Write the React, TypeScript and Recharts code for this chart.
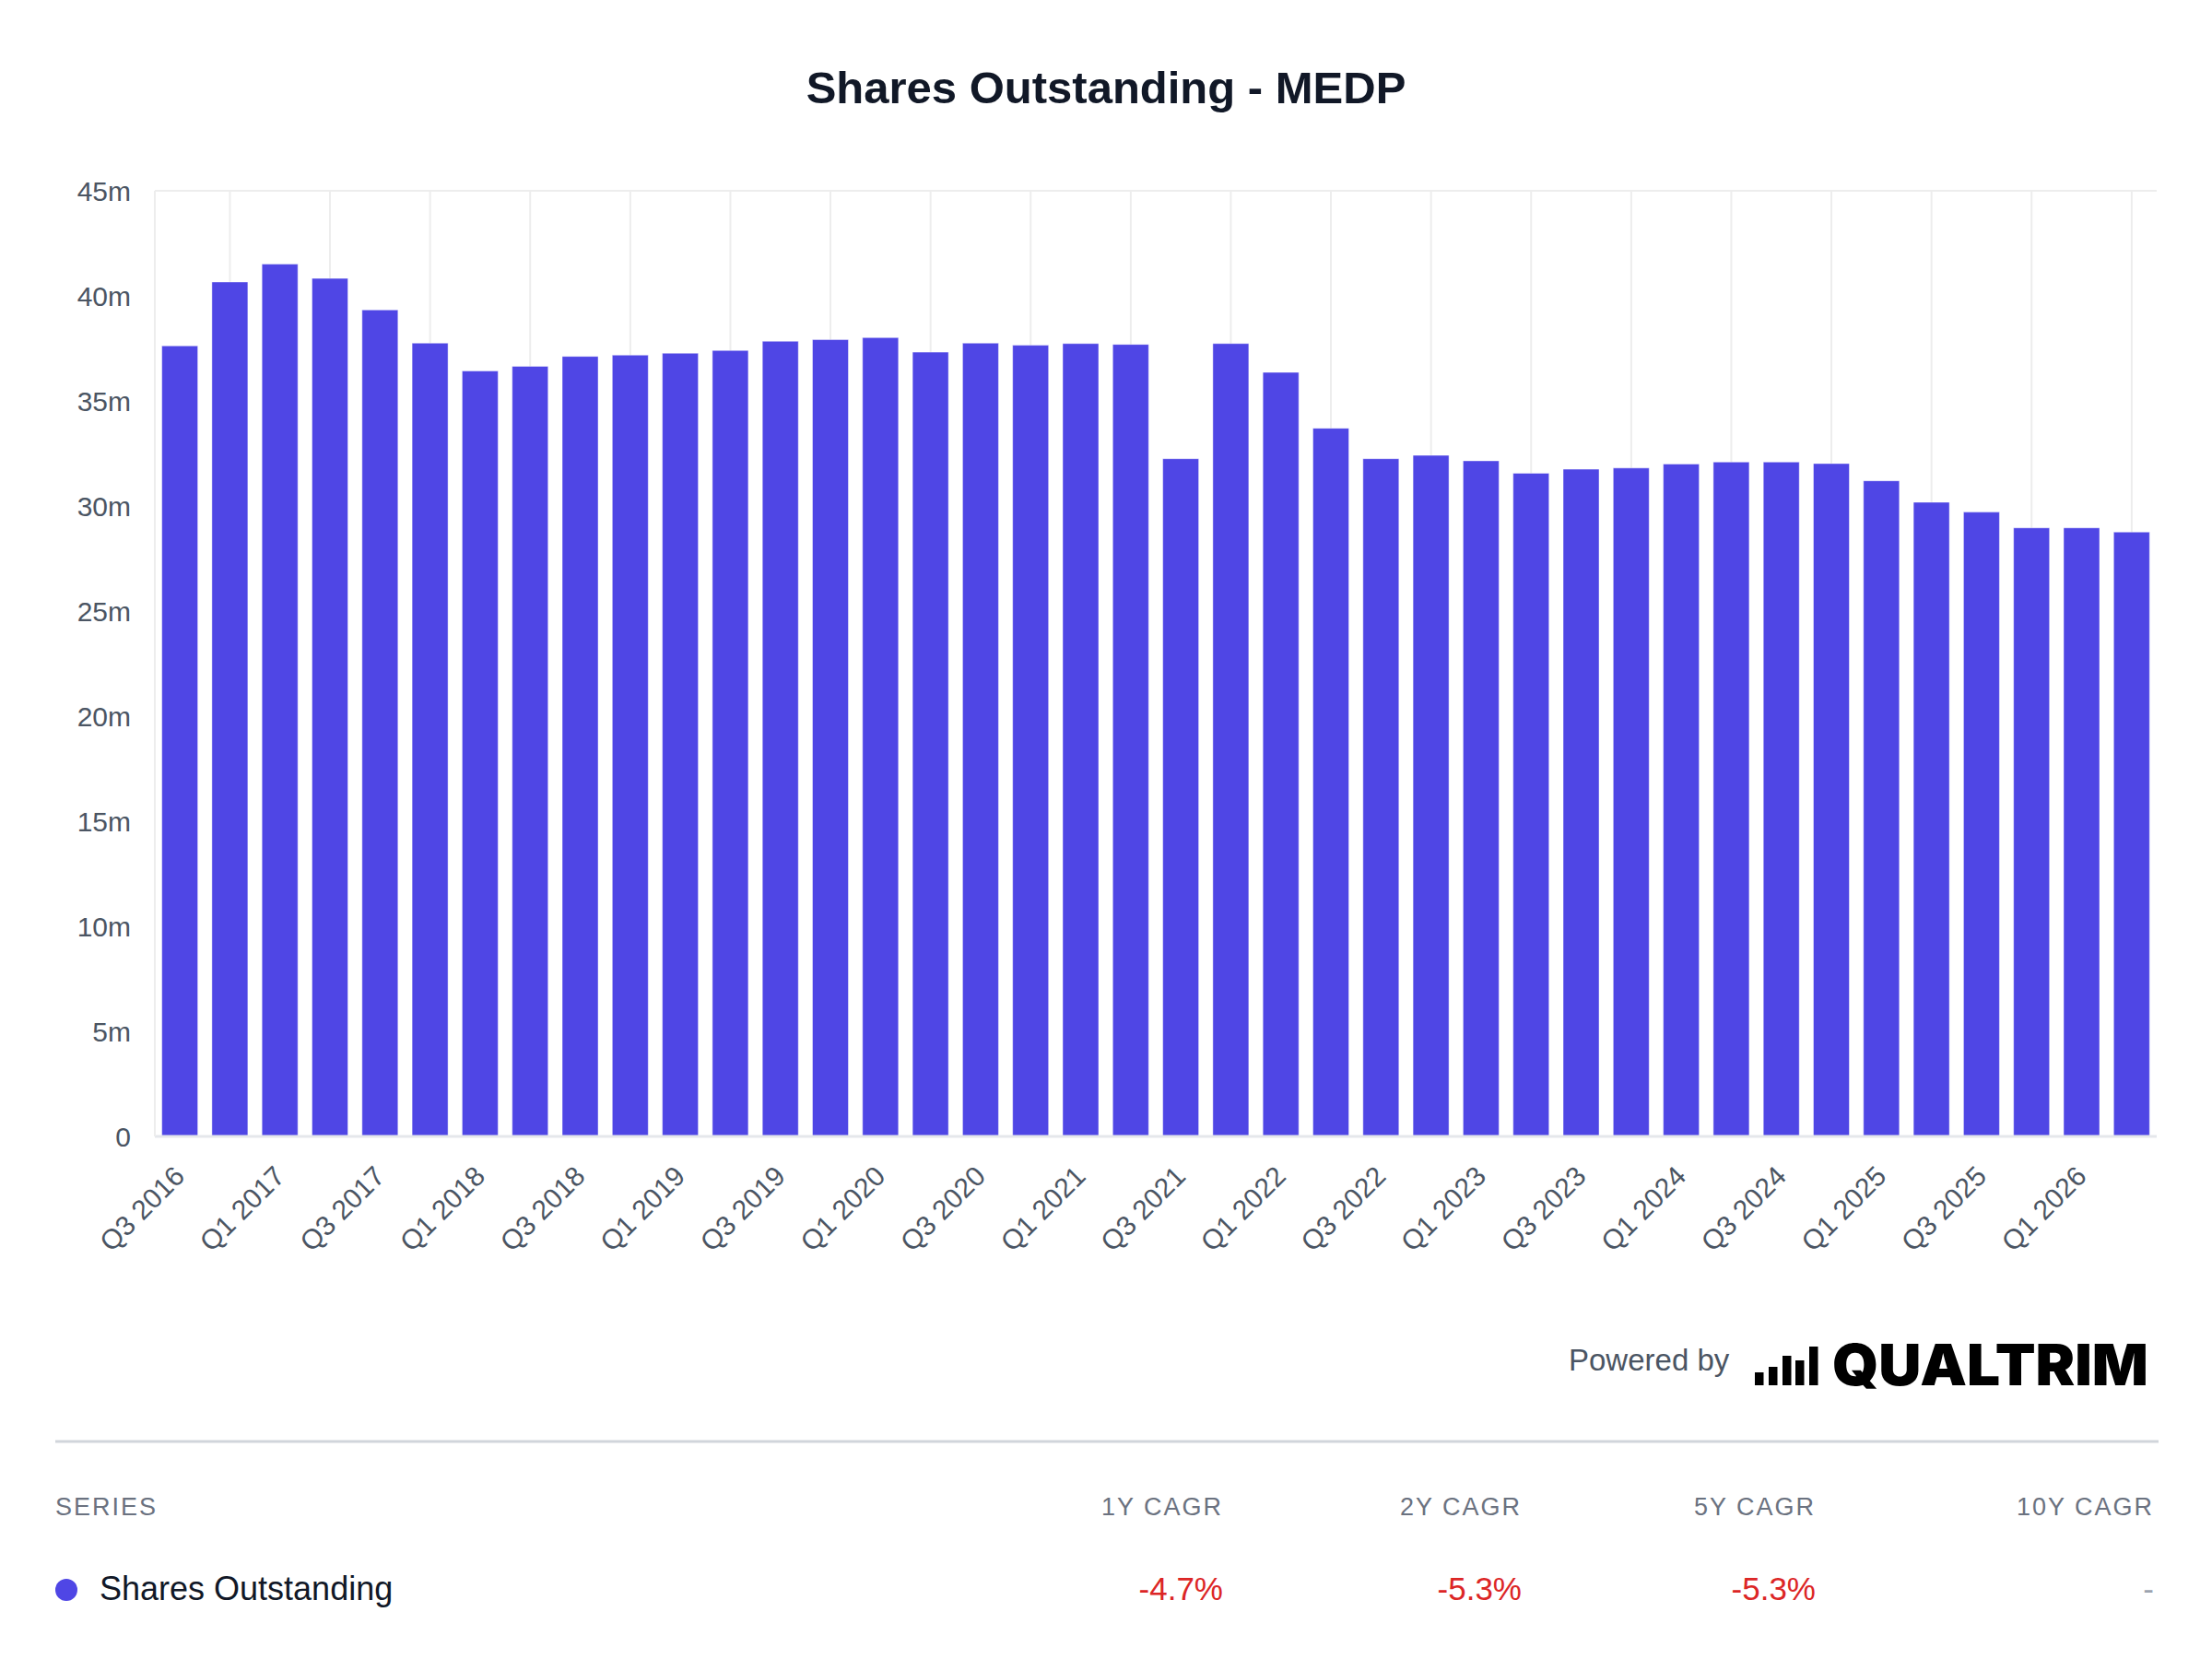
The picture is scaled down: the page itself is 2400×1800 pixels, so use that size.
import React from 'react'
import { BarChart, Bar, XAxis, YAxis, CartesianGrid, ReferenceLine } from 'recharts'

const quarters = [
  'Q3 2016', 'Q4 2016', 'Q1 2017', 'Q2 2017', 'Q3 2017', 'Q4 2017', 'Q1 2018', 'Q2 2018',
  'Q3 2018', 'Q4 2018', 'Q1 2019', 'Q2 2019', 'Q3 2019', 'Q4 2019', 'Q1 2020', 'Q2 2020',
  'Q3 2020', 'Q4 2020', 'Q1 2021', 'Q2 2021', 'Q3 2021', 'Q4 2021', 'Q1 2022', 'Q2 2022',
  'Q3 2022', 'Q4 2022', 'Q1 2023', 'Q2 2023', 'Q3 2023', 'Q4 2023', 'Q1 2024', 'Q2 2024',
  'Q3 2024', 'Q4 2024', 'Q1 2025', 'Q2 2025', 'Q3 2025', 'Q4 2025', 'Q1 2026', 'Q2 2026',
]

// shares outstanding, in millions
const sharesOutstanding = [
  37.62, 40.66, 41.51, 40.83, 39.33, 37.75, 36.43, 36.65,
  37.12, 37.18, 37.27, 37.4, 37.84, 37.92, 38.01, 37.32,
  37.75, 37.65, 37.73, 37.69, 32.25, 37.73, 36.36, 33.7,
  32.25, 32.41, 32.15, 31.56, 31.75, 31.81, 32.0, 32.09,
  32.09, 32.02, 31.2, 30.18, 29.71, 28.96, 28.96, 28.76,
]

const yTicks = [0, 5, 10, 15, 20, 25, 30, 35, 40, 45]

const cagrHeaders = ['1Y CAGR', '2Y CAGR', '5Y CAGR', '10Y CAGR']
const cagrValues = ['-4.7%', '-5.3%', '-5.3%', '-']

const data = quarters.map((quarter, i) => ({ quarter, shares: sharesOutstanding[i] }))

// grid lines sit on every other bar (the unlabelled ones)
const gridQuarters = quarters.filter((_, i) => i % 2 === 1)

const FONT = '"Liberation Sans", Arial, Helvetica, sans-serif'
const BAR_COLOR = '#4f46e5'
const GRID = '#ededed'
const TICK_COLOR = '#4b5563'

const CHART_W = 2400
const CHART_H = 1420
const MARGIN = { top: 207, right: 60, left: 0, bottom: 0 }

const XTick = ({ x, y, payload }: any) => (
  <text
    transform={`translate(${x + 7},${y + 45}) rotate(-45)`}
    textAnchor="end"
    fontSize={30}
    fill={TICK_COLOR}
    fontFamily={FONT}
  >
    {payload.value}
  </text>
)

const YTick = ({ x, y, payload }: any) => (
  <text x={x} y={y} dy={11} textAnchor="end" fontSize={30} fill={TICK_COLOR} fontFamily={FONT}>
    {payload.value === 0 ? '0' : `${payload.value}m`}
  </text>
)

// small bar glyph of the logo
const logoBars = [
  { x: 1904, h: 14 },
  { x: 1919, h: 20 },
  { x: 1934, h: 32 },
  { x: 1948, h: 27 },
  { x: 1963, h: 42 },
]

const cagrRight = [1327, 1651, 1970, 2337]

export default function App() {
  return (
    <div
      style={{
        position: 'absolute',
        left: 0,
        top: 0,
        width: 2400,
        height: 1800,
        background: '#ffffff',
        fontFamily: FONT,
      }}
    >
      {/* background layer: grid only, same layout as the bar chart */}
      <div style={{ position: 'absolute', left: 0, top: 0 }}>
        <BarChart width={CHART_W} height={CHART_H} data={data} margin={MARGIN} barCategoryGap="14%">
          <CartesianGrid vertical={false} stroke={GRID} strokeWidth={2} />
          {gridQuarters.map((q) => (
            <ReferenceLine key={q} x={q} stroke={GRID} strokeWidth={2} />
          ))}
          <XAxis dataKey="quarter" height={187} tick={false} tickLine={false} axisLine={false} />
          <YAxis domain={[0, 45]} ticks={yTicks} width={168} tick={false} tickLine={false} axisLine={false} />
          <Bar dataKey="shares" fill="transparent" isAnimationActive={false} />
        </BarChart>
      </div>

      {/* bars and axes */}
      <div style={{ position: 'absolute', left: 0, top: 0 }}>
        <BarChart width={CHART_W} height={CHART_H} data={data} margin={MARGIN} barCategoryGap="14%">
          <XAxis
            dataKey="quarter"
            interval={1}
            tickLine={false}
            tickSize={0}
            tickMargin={0}
            axisLine={{ stroke: '#e5e7eb', strokeWidth: 3 }}
            height={187}
            tick={<XTick />}
          />
          <YAxis
            domain={[0, 45]}
            ticks={yTicks}
            width={168}
            tickLine={false}
            tickSize={0}
            tickMargin={26}
            axisLine={{ stroke: GRID, strokeWidth: 2 }}
            tick={<YTick />}
          />
          <Bar
            dataKey="shares"
            fill={BAR_COLOR}
            stroke="#ffffff"
            strokeOpacity={0.45}
            strokeWidth={1}
            isAnimationActive={false}
          />
        </BarChart>
      </div>

      <svg
        width={2400}
        height={1800}
        style={{ position: 'absolute', left: 0, top: 0, pointerEvents: 'none' }}
      >
        <text
          x={1200}
          y={112}
          textAnchor="middle"
          fontSize={49}
          fontWeight="bold"
          fill="#111827"
          fontFamily={FONT}
        >
          Shares Outstanding - MEDP
        </text>

        <text x={1702} y={1487} fontSize={33} fill={TICK_COLOR} fontFamily={FONT}>
          Powered by
        </text>
        {logoBars.map((b) => (
          <rect key={b.x} x={b.x} y={1503 - b.h} width={9.5} height={b.h} fill="#000000" />
        ))}
        <text
          x={1988}
          y={1503}
          fontSize={62}
          fontWeight={900}
          fill="#000000"
          fontFamily='Inter, "DejaVu Sans", sans-serif'
          textLength={343}
          lengthAdjust="spacingAndGlyphs"
        >
          QUALTRIM
        </text>

        <line x1={60} x2={2342} y1={1564} y2={1564} stroke="#d1d5db" strokeWidth={3} />

        <text x={60} y={1644} fontSize={27} fill="#6b7280" letterSpacing={2} fontFamily={FONT}>
          SERIES
        </text>
        {cagrHeaders.map((h, i) => (
          <text
            key={h}
            x={cagrRight[i]}
            y={1644}
            textAnchor="end"
            fontSize={27}
            fill="#6b7280"
            letterSpacing={2}
            fontFamily={FONT}
          >
            {h}
          </text>
        ))}

        <circle cx={72} cy={1725} r={12} fill={BAR_COLOR} />
        <text x={108} y={1736} fontSize={36} fill="#111827" fontFamily={FONT}>
          Shares Outstanding
        </text>
        {cagrValues.map((v, i) => (
          <text
            key={i}
            x={cagrRight[i]}
            y={1736}
            textAnchor="end"
            fontSize={35}
            fill={v === '-' ? '#9ca3af' : '#dc2626'}
            fontFamily={FONT}
          >
            {v}
          </text>
        ))}
      </svg>
    </div>
  )
}
